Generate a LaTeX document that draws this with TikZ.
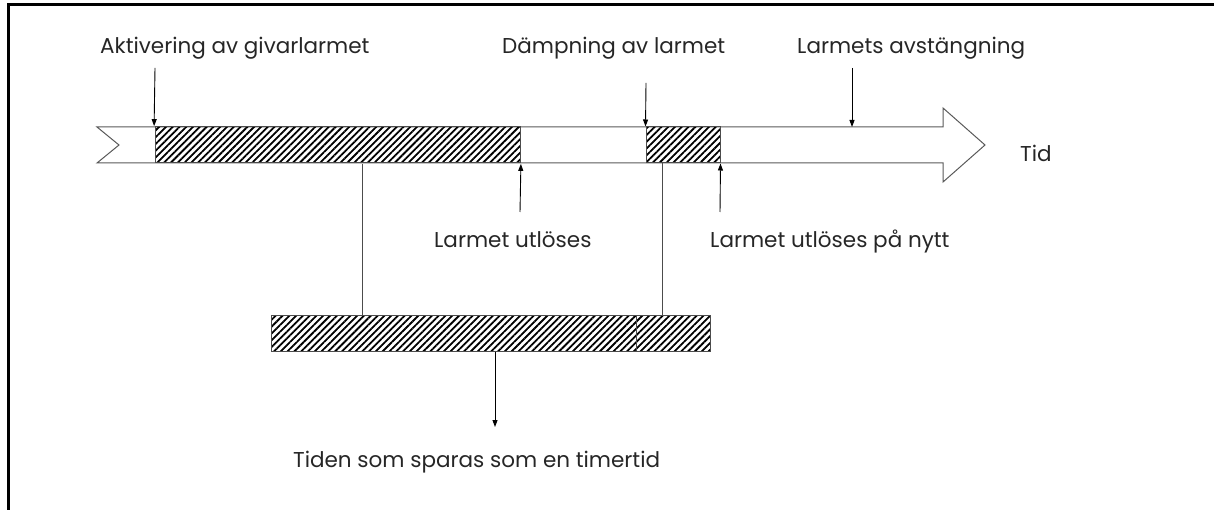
\documentclass[tikz,border=0pt]{standalone}
\usepackage{fontspec}
\setmainfont{Poppins}
\usetikzlibrary{arrows.meta,patterns.meta}
\begin{document}
\begin{tikzpicture}[x=1pt,y=-1pt,
  lbl/.style={anchor=base west,inner sep=0pt,font=\fontsize{21.5}{24}\selectfont\color{black!85}},
  hatchbox/.style={draw=black!70,line width=1pt,minimum height=36pt,inner sep=0pt,
    pattern={Lines[angle=45,distance=4.8pt,line width=1.8pt]}},
  arr/.style={draw=black,line width=0.9pt,-{Triangle[length=7pt,width=5pt]}},
  conn/.style={draw=black!70,line width=1pt},
  band/.style={draw=black!65,line width=1pt}
]
\useasboundingbox (0,0) rectangle (1214,510);
% frame
\draw[line width=3pt] (8,510) -- (8,5) -- (1214,5);
% time band
\draw[band] (97,127) -- (943,127) -- (943,108) -- (985,145) -- (943,182) -- (943,163) -- (97,163) -- (119,145) -- cycle;
% hatched boxes
\node[hatchbox,minimum width=365pt] (h1) at (337.5,145) {};
\node[hatchbox,minimum width=74pt] (h2) at (683,145) {};
\node[hatchbox,minimum width=365pt] (b1) at (453.5,333) {};
\node[hatchbox,minimum width=74pt] (b2) at (673,333) {};
% labels
\node[lbl] (l1) at (100,54) {Aktivering av givarlarmet};
\node[lbl] (l2) at (502,54) {Dämpning av larmet};
\node[lbl] (l3) at (797,54) {Larmets avstängning};
\node[lbl] (tid) at (1020,162) {Tid};
\node[lbl] (l4) at (434,248) {Larmet utlöses};
\node[lbl] (l5) at (710,248) {Larmet utlöses på nytt};
\node[lbl] (l6) at (293,467) {Tiden som sparas som en timertid};
% arrow start coordinates
\coordinate (a1) at (155,68);
\coordinate (a2) at (646,83);
\coordinate (a3) at (852,68);
\coordinate (a3e) at (852,127);
\coordinate (u1) at (520,212);
\coordinate (u2) at (720,212);
\coordinate (c1) at (362,0);
\coordinate (c2) at (662,0);
\coordinate (d1) at (495,0);
\coordinate (d1e) at (495,427);
% arrows
\draw[arr] (a1) -- (h1.north west);
\draw[arr] (a2) -- (h2.north west);
\draw[arr] (a3) -- (a3e);
\draw[arr] (u1) -- (h1.south east);
\draw[arr] (u2) -- (h2.south east);
\draw[arr] (b1.south -| d1) -- (d1e);
% connectors
\draw[conn] (h1.south -| c1) -- (b1.north -| c1);
\draw[conn] (h2.south -| c2) -- (b2.north -| c2);
\end{tikzpicture}
\end{document}
